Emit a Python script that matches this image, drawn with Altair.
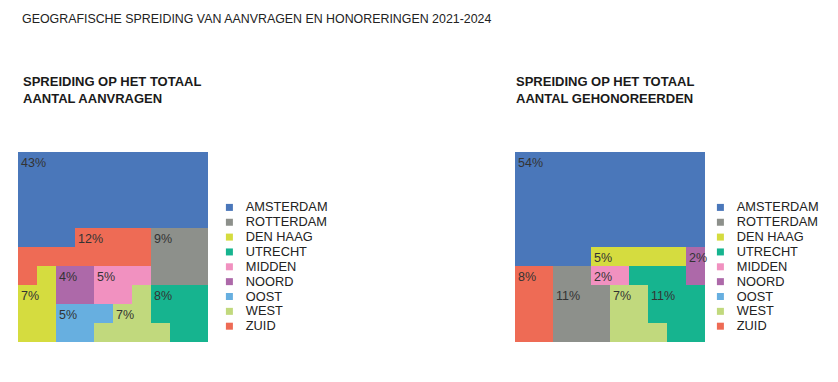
import altair as alt
import pandas as pd

# ---------------- data ----------------
regions = ["AMSTERDAM", "ROTTERDAM", "DEN HAAG", "UTRECHT", "MIDDEN",
           "NOORD", "OOST", "WEST", "ZUID"]
codes = ["a", "r", "d", "u", "m", "n", "o", "w", "z"]
colors = ["#4a77ba", "#8d908b", "#d5dc3f", "#16b48f", "#f191c0",
          "#ad69a9", "#67afe0", "#c1d97d", "#ee6b55"]

pct_aanvragen = [43, 9, 7, 8, 5, 4, 5, 7, 12]
pct_gehonoreerd = [54, 11, 5, 11, 2, 2, 0, 7, 8]

# 10x10 waffle: one letter per cell (region code); upper case marks label cell
grid_aanvragen = [
    "Aaaaaaaaaa",
    "aaaaaaaaaa",
    "aaaaaaaaaa",
    "aaaaaaaaaa",
    "aaaZzzzRrr",
    "zzzzzzzrrr",
    "zdNnMmmrrr",
    "DdnnmmwUuu",
    "ddOooWwuuu",
    "ddoowwwwuu",
]
grid_gehonoreerd = [
    "Aaaaaaaaaa",
    "aaaaaaaaaa",
    "aaaaaaaaaa",
    "aaaaaaaaaa",
    "aaaaaaaaaa",
    "aaaaDddddN",
    "ZzrrMmuuun",
    "zzRrrWwUuu",
    "zzrrrwwuuu",
    "zzrrrwwwuu",
]

title_main = "GEOGRAFISCHE SPREIDING VAN AANVRAGEN EN HONORERINGEN 2021-2024"
title_left = ["SPREIDING OP HET TOTAAL", "AANTAL AANVRAGEN"]
title_right = ["SPREIDING OP HET TOTAAL", "AANTAL GEHONOREERDEN"]

FONT = "Liberation Sans"


def build(grid, pcts):
    cells, labels = [], []
    for r, line in enumerate(grid):
        for c, ch in enumerate(line):
            idx = codes.index(ch.lower())
            cells.append({"region": regions[idx], "col": c, "col2": c + 1,
                          "row": r, "row2": r + 1})
            if ch.isupper():
                labels.append({"col": c, "row": r, "label": f"{pcts[idx]}%"})
    return pd.DataFrame(cells), pd.DataFrame(labels)


def panel(grid, pcts, title_lines, legend_x, title_dx):
    cells, labels = build(grid, pcts)
    xs = alt.Scale(domain=[0, 10], nice=False, zero=False)
    ys = alt.Scale(domain=[0, 10], nice=False, zero=False, reverse=True)
    rects = alt.Chart(cells).mark_rect(strokeWidth=0).encode(
        x=alt.X("col:Q", scale=xs, axis=None),
        x2="col2:Q",
        y=alt.Y("row:Q", scale=ys, axis=None),
        y2="row2:Q",
        color=alt.Color(
            "region:N",
            scale=alt.Scale(domain=regions, range=colors),
            legend=alt.Legend(
                orient="none", legendX=legend_x, legendY=49, title=None,
                symbolType="square", symbolSize=49, symbolStrokeWidth=0,
                symbolOpacity=1, labelFont=FONT, labelFontSize=12.8,
                labelColor="#222", labelOffset=10, rowPadding=0.85,
            ),
        ),
    )
    text = alt.Chart(labels).mark_text(
        align="left", baseline="top", dx=3, dy=5, font=FONT,
        fontSize=12.5, color="#333",
    ).encode(
        x=alt.X("col:Q", scale=xs, axis=None),
        y=alt.Y("row:Q", scale=ys, axis=None),
        text="label:N",
    )
    return alt.layer(rects, text).properties(
        width=190, height=190,
        title=alt.TitleParams(
            title_lines, anchor="start", font=FONT, fontSize=13,
            fontWeight="bold", color="#1a1a1a", lineHeight=17.3,
            offset=46, dx=title_dx,
        ),
    )


left = panel(grid_aanvragen, pct_aanvragen, title_left, 205, 5)
right = panel(grid_gehonoreerd, pct_gehonoreerd, title_right, 199, 1)

chart = alt.hconcat(left, right, spacing=307, bounds="flush").resolve_legend(
    color="independent"
).properties(
    title=alt.TitleParams(
        title_main, anchor="start", font=FONT, fontSize=12.4,
        fontWeight="normal", color="#222", offset=50, dx=4,
    ),
    padding={"left": 10, "top": 5, "right": 5, "bottom": 5},
).configure_view(stroke=None)

chart.save("out.html", embed_options={"renderer": "svg", "actions": False})
